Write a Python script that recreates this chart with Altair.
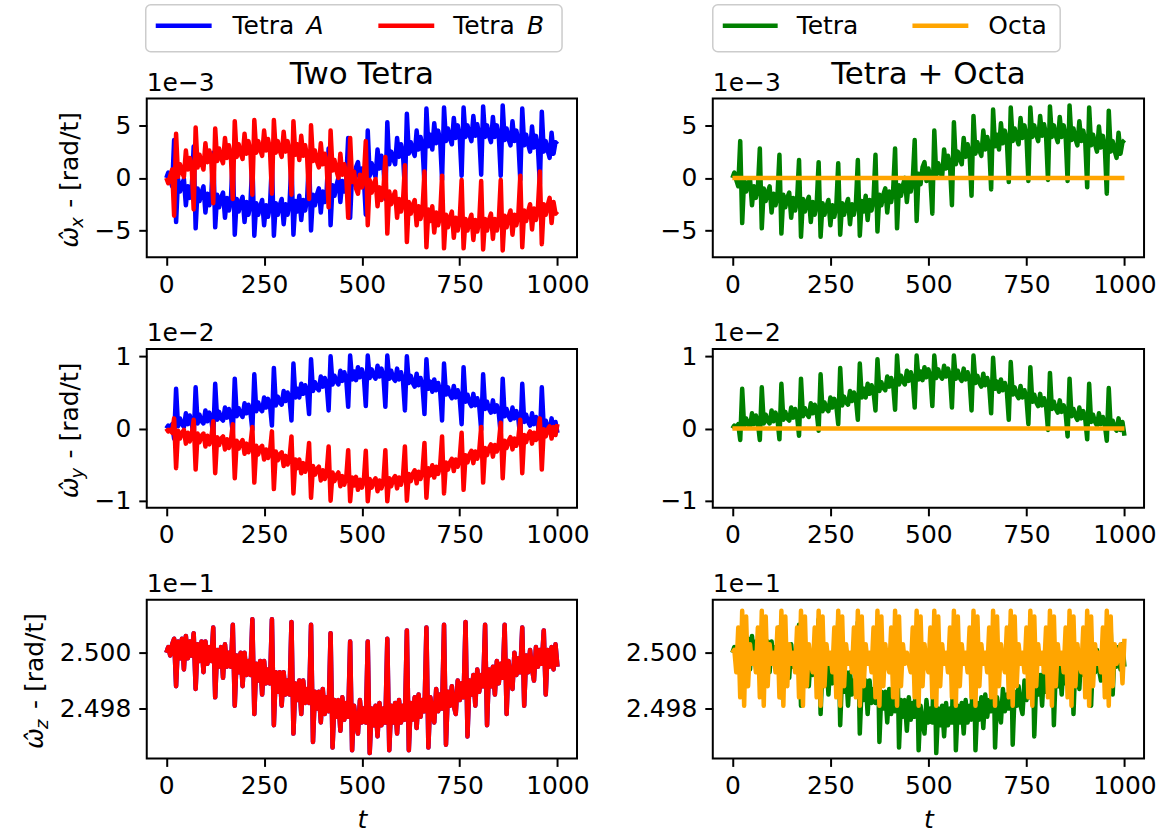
import altair as alt
import pandas as pd

FONT = "DejaVu Sans"

# sampling times (t = 0, 5, ..., 1000)
t_vals = list(range(0, 1001, 5))

# ---- omega_x, units of 1e-4 rad/t (axis shows x1e-3) ----
wx_tetraA = [0, 5, -2, -8, 36, -42,
 -1, -13, -6, -1, -26, -8, -19, -10, 30, -48,
 -10, -22, -14, -8, -33, -15, -26, -17, 24, -47,
 -16, -28, -19, -14, -38, -19, -31, -21, 20, -54,
 -20, -32, -23, -18, -42, -23, -35, -25, 16, -55,
 -24, -35, -27, -21, -45, -26, -37, -27, 15, -55,
 -24, -35, -26, -20, -44, -25, -35, -25, 16, -54,
 -22, -32, -17, -40, -21, -31, -20, 20, -50,
 -16, -26, -16, -10, -33, -13, -23, -12, 28, -45,
 -7, -17, -7, 0, -23, -3, -13, -2, 38, -38,
 4, -6, 10, 15, -3, 9, 0, -35, 45,
 2, 14, 6, 1, 27, 9, 21, 12, -20, 53,
 13, 25, 18, 13, 38, 20, 32, 23, -12, 61,
 23, 34, 26, 21, 45, 27, 39, 30, -6, 66,
 30, 41, 27, 52, 33, 45, 36, -2, 67,
 35, 47, 38, 32, 57, 38, 50, 40, 2, 67,
 39, 50, 41, 35, 59, 40, 51, 41, 3, 68,
 39, 50, 40, 34, 58, 39, 50, 40, 2, 69,
 36, 47, 37, 31, 54, 35, 45, 35, -2, 66,
 31, 41, 32, 25, 49, 29, 40, 29, -6, 63,
 25, 35, 26, 19, 43, 23, 34, 32]

wx_tetraB = [0, -5, 2, 8, -36, 42,
 1, 13, 6, 1, 26, 8, 19, 10, -30, 48,
 10, 22, 14, 8, 33, 15, 26, 17, -24, 47,
 16, 28, 19, 14, 38, 19, 31, 21, -20, 54,
 20, 32, 23, 18, 42, 23, 35, 25, -16, 55,
 24, 35, 27, 21, 45, 26, 37, 27, -15, 55,
 24, 35, 26, 20, 44, 25, 35, 25, -16, 54,
 22, 32, 17, 40, 21, 31, 20, -20, 50,
 16, 26, 16, 10, 33, 13, 23, 12, -28, 45,
 7, 17, 7, 0, 23, 3, 13, 2, -38, 38,
 -4, 6, -10, -15, 3, -9, 0, 35, -45,
 -2, -14, -6, -1, -27, -9, -21, -12, 20, -53,
 -13, -25, -18, -13, -38, -20, -32, -23, 12, -61,
 -23, -34, -26, -21, -45, -27, -39, -30, 6, -66,
 -30, -41, -27, -52, -33, -45, -36, 2, -67,
 -35, -47, -38, -32, -57, -38, -50, -40, -2, -67,
 -39, -50, -41, -35, -59, -40, -51, -41, -3, -68,
 -39, -50, -40, -34, -58, -39, -50, -40, -2, -69,
 -36, -47, -37, -31, -54, -35, -45, -35, 2, -66,
 -31, -41, -32, -25, -49, -29, -40, -29, 6, -63,
 -25, -35, -26, -19, -43, -23, -34, -32]

wx_tetra = [0, 5, -2, -8, 35, -43,
 -1, -13, -6, -1, -26, -8, -19, -10, 28, -48,
 -10, -22, -14, -8, -33, -15, -26, -17, 22, -53,
 -16, -28, -19, -14, -38, -19, -31, -21, 17, -56,
 -20, -32, -23, -18, -42, -23, -35, -25, 15, -56,
 -24, -35, -27, -21, -45, -26, -37, -27, 14, -54,
 -24, -35, -26, -20, -44, -25, -35, -25, 17, -55,
 -22, -32, -17, -40, -21, -31, -20, 22, -51,
 -16, -26, -16, -10, -33, -13, -23, -12, 28, -48,
 -7, -17, -7, 0, -23, -3, -13, -2, 36, -41,
 4, -6, 10, 15, -3, 9, 0, -34, 45,
 2, 14, 6, 1, 27, 9, 21, 12, -26, 53,
 13, 25, 18, 13, 38, 20, 32, 23, -17, 59,
 23, 34, 26, 21, 45, 27, 39, 30, -11, 65,
 30, 41, 27, 52, 33, 45, 36, -4, 67,
 35, 47, 38, 32, 57, 38, 50, 40, -3, 67,
 39, 50, 41, 35, 59, 40, 51, 41, -2, 68,
 39, 50, 40, 34, 58, 39, 50, 40, -3, 69,
 36, 47, 37, 31, 54, 35, 45, 35, -9, 67,
 31, 41, 32, 25, 49, 29, 40, 29, -15, 64,
 25, 35, 26, 19, 43, 23, 34, 36]

# ---- omega_y, units of 1e-4 rad/t (axis shows x1e-2) ----
wy_tetraA = [0, 4, 2, 6, -14, 55,
 3, 14, 6, 2, 21, 6, 18, 8, -12, 57,
 7, 19, 10, 7, 25, 10, 22, 13, -10, 62,
 12, 23, 14, 11, 29, 15, 27, 17, -6, 69,
 17, 28, 20, 16, 35, 21, 33, 23, -2, 75,
 24, 36, 27, 24, 43, 29, 41, 32, 4, 84,
 32, 44, 36, 33, 52, 38, 50, 41, 11, 90,
 43, 55, 43, 62, 48, 60, 51, 20, 96,
 52, 64, 56, 53, 72, 58, 70, 61, 25, 100,
 61, 73, 65, 61, 80, 66, 78, 68, 30, 101,
 68, 79, 67, 85, 71, 82, 72, 31, 101,
 70, 82, 73, 69, 87, 72, 83, 73, 30, 101,
 69, 80, 70, 66, 83, 68, 78, 67, 25, 100,
 63, 73, 63, 58, 76, 60, 70, 59, 20, 96,
 55, 65, 51, 68, 53, 63, 52, 11, 90,
 47, 57, 47, 42, 59, 43, 53, 42, 6, 85,
 37, 47, 36, 31, 48, 32, 42, 31, -2, 75,
 27, 37, 27, 22, 39, 23, 32, 21, -8, 69,
 17, 27, 17, 12, 29, 14, 24, 13, -12, 62,
 9, 19, 9, 4, 21, 6, 16, 5, -14, 57,
 1, 11, 1, -3, 14, -2, 9, -6]

wy_tetraB = [0, -4, -2, -6, 14, -55,
 -3, -14, -6, -2, -21, -6, -18, -8, 12, -57,
 -7, -19, -10, -7, -25, -10, -22, -13, 10, -62,
 -12, -23, -14, -11, -29, -15, -27, -17, 6, -69,
 -17, -28, -20, -16, -35, -21, -33, -23, 2, -75,
 -24, -36, -27, -24, -43, -29, -41, -32, -4, -84,
 -32, -44, -36, -33, -52, -38, -50, -41, -11, -90,
 -43, -55, -43, -62, -48, -60, -51, -20, -96,
 -52, -64, -56, -53, -72, -58, -70, -61, -25, -100,
 -61, -73, -65, -61, -80, -66, -78, -68, -30, -101,
 -68, -79, -67, -85, -71, -82, -72, -31, -101,
 -70, -82, -73, -69, -87, -72, -83, -73, -30, -101,
 -69, -80, -70, -66, -83, -68, -78, -67, -25, -100,
 -63, -73, -63, -58, -76, -60, -70, -59, -20, -96,
 -55, -65, -51, -68, -53, -63, -52, -11, -90,
 -47, -57, -47, -42, -59, -43, -53, -42, -6, -85,
 -37, -47, -36, -31, -48, -32, -42, -31, 2, -75,
 -27, -37, -27, -22, -39, -23, -32, -21, 8, -69,
 -17, -27, -17, -12, -29, -14, -24, -13, 12, -62,
 -9, -19, -9, -4, -21, -6, -16, -5, 14, -57,
 -1, -11, -1, 3, -14, 2, -9, 6]

wy_tetra = [0, 4, 2, 6, -16, 55,
 3, 14, 6, 2, 21, 6, 18, 8, -16, 57,
 7, 19, 10, 7, 25, 10, 22, 13, -15, 62,
 12, 23, 14, 11, 29, 15, 27, 17, -10, 69,
 17, 28, 20, 16, 35, 21, 33, 23, -3, 75,
 24, 36, 27, 24, 43, 29, 41, 32, 6, 84,
 32, 44, 36, 33, 52, 38, 50, 41, 12, 90,
 43, 55, 43, 62, 48, 60, 51, 25, 96,
 52, 64, 56, 53, 72, 58, 70, 61, 26, 101,
 61, 73, 65, 61, 80, 66, 78, 68, 29, 101,
 68, 79, 67, 85, 71, 82, 72, 31, 101,
 70, 82, 73, 69, 87, 72, 83, 73, 29, 101,
 69, 80, 70, 66, 83, 68, 78, 67, 25, 101,
 63, 73, 63, 58, 76, 60, 70, 59, 21, 98,
 55, 65, 51, 68, 53, 63, 52, 12, 92,
 47, 57, 47, 42, 59, 43, 53, 42, 6, 85,
 37, 47, 36, 31, 48, 32, 42, 31, -2, 77,
 27, 37, 27, 22, 39, 23, 32, 21, -11, 69,
 17, 27, 17, 12, 29, 14, 24, 13, -15, 62,
 9, 19, 9, 4, 21, 6, 16, 5, -17, 56,
 1, 11, 1, -3, 14, -2, 9, -10]

# ---- omega_z, offset from 2.500 in units of 1e-4 (axis shows x1e-1) ----
wz_tetra = [0, 2, -1, 3, 5, -12,
 4, -2, 5, -6, 6, -2, 4, -1, 7, -13,
 3, -3, 4, -7, 4, -4, 2, -3, 9, -16,
 1, -5, 2, -9, 3, -5, 0, -5, 10, -19,
 -1, -7, 0, -12, 0, -8, -3, -8, 12, -22,
 -4, -10, -3, -15, -3, -11, -6, -11, 12, -26,
 -7, -14, -7, -19, -7, -15, -10, -15, 11, -29,
 -11, -17, -10, -22, -10, -18, -13, -18, 10, -32,
 -14, -20, -14, -25, -13, -22, -16, -21, 7, -34,
 -17, -23, -17, -28, -16, -24, -18, -23, 4, -35,
 -19, -25, -29, -17, -25, -20, -25, 4, -36,
 -20, -26, -19, -30, -18, -26, -20, -25, 5, -35,
 -19, -25, -18, -29, -17, -25, -19, -24, 8, -35,
 -18, -24, -16, -27, -15, -23, -17, -21, 9, -34,
 -16, -21, -25, -13, -21, -15, -20, 10, -33,
 -14, -19, -12, -19, -22, -10, -17, -11, -16, 11, -30,
 -10, -15, -8, -19, -6, -14, -8, -12, 10, -26,
 -6, -12, -5, -15, -3, -11, -4, -9, 10, -22,
 -3, -9, -13, 0, -8, -2, -7, 9, -19,
 -1, -7, 1, -6, -10, 2, -5, 1, -4, 8, -15,
 1, -5, 2, -6, 3, -5]

wz_octa = [0, 1, -7, 9, -16, 15, -19, 13, -12, 3,
 -4, 0, -7, 9, -16, 15, -19, 13, -12, 3,
 -4, 0, -7, 9, -16, 15, -19, 13, -12, 3,
 -4, 0, -7, 9, -16, 15, -19, 13, -12, 3,
 -4, -7, 9, -16, 15, -19, 13, -12, 3, -4,
 0, -7, 9, -16, 15, -19, 13, -12, 3, -4,
 0, -7, 9, -16, 15, -19, 13, -12, 3, -4,
 0, -7, 9, -16, 15, -19, 13, -12, 3, -4,
 -7, 9, -16, 15, -19, 13, -12, 3, -4, 0,
 -4, -7, 9, -16, 15, -19, 13, -12, 3, -4,
 -7, 9, -16, 15, -19, 13, -12, 3, -4, 0,
 -7, 9, -16, 15, -19, 13, -12, 3, -4, 0,
 -7, 9, -16, 15, -19, 13, -12, 3, -4, 0,
 -7, 9, -16, 15, -19, 13, -12, 3, -4, -7,
 9, -16, 15, -19, 13, -12, 3, -4, 0, -7,
 9, -16, 15, -19, 13, -12, 3, -4, 0, -7,
 9, -16, 15, -19, 13, -12, 3, -4, 0, -7,
 9, -16, 15, -19, 13, -12, 3, -4, -7, 9,
 -16, 15, -19, 13, -12, 3, -4, 0, -7, 9,
 -16, 15, -19, 13, -12, 3, -4, 0, 3, -11,
 5]

# Octa stays at zero for x and y components
octa_flat_t = [0, 1000]
octa_flat = [0, 0]

for arr in (wx_tetraA, wx_tetraB, wx_tetra, wy_tetraA, wy_tetraB, wy_tetra, wz_tetra, wz_octa):
    assert len(arr) == len(t_vals), len(arr)

BLUE, RED, GREEN, ORANGE = "#0000ff", "#ff0000", "#008000", "#ffa500"
WL, WR, H = 431, 432, 159
FS = 25
LW = 4.5
ONE = pd.DataFrame({"k": [0]})

XDOM = [-50, 1050]


def xaxis(title=False):
    kw = dict(values=[0, 250, 500, 750, 1000], format="d", labelPadding=7)
    if title:
        return alt.Axis(title="t", titleFontStyle="italic", titlePadding=9, **kw)
    return alt.Axis(title=None, **kw)


def line(ts, vs, color, ydom, yvals, yfmt, xtitle=False):
    df = pd.DataFrame({"t": ts, "v": vs})
    return alt.Chart(df).mark_line(color=color, strokeWidth=LW, strokeJoin="round").encode(
        x=alt.X("t:Q", scale=alt.Scale(domain=XDOM, nice=False, zero=False), axis=xaxis(xtitle)),
        y=alt.Y("v:Q", scale=alt.Scale(domain=ydom, nice=False, zero=False),
                axis=alt.Axis(values=yvals, format=yfmt, title=None, labelPadding=8)),
    )


def txt(text, x, y, size=FS, align="left", style="normal", angle=0, baseline="alphabetic"):
    return alt.Chart(ONE).mark_text(text=text, font=FONT, fontSize=size, align=align,
                                    baseline=baseline, fontStyle=style, angle=angle,
                                    color="black").encode(x=alt.value(x), y=alt.value(y))


def rect(x, x2, y, y2, **kw):
    return alt.Chart(ONE).mark_rect(**kw).encode(
        x=alt.value(x), x2=alt.value(x2), y=alt.value(y), y2=alt.value(y2))


def seg(x, x2, y, color):
    return alt.Chart(ONE).mark_rule(color=color, strokeWidth=LW).encode(
        x=alt.value(x), x2=alt.value(x2), y=alt.value(y))


def ytitle(sub, xb):
    y0 = H / 2 + 70
    return [
        txt("\u03c9\u0302", xb, y0, style="italic", angle=270),
        txt(sub, xb + 5, y0 - 20, size=18, style="italic", angle=270),
        txt("- [rad/t]", xb, y0 - 40, angle=270),
    ]


def s(vals, k):
    return [v / k for v in vals]


def sz(vals):
    return [2.5 + v / 10000 for v in vals]


DX, DY, DZ = [-7.55, 7.55], [-1.1, 1.1], [2.49621, 2.5019]
VX, VY, VZ = [-5, 0, 5], [-1, 0, 1], [2.498, 2.5]

# Row 1
p11 = alt.layer(
    rect(-146, 0, -97, 0, opacity=0),
    line(t_vals, s(wx_tetraA, 10), BLUE, DX, VX, "d"),
    line(t_vals, s(wx_tetraB, 10), RED, DX, VX, "d"),
    txt("1e\u22123", 0, -8),
    txt("Two Tetra", WL / 2, -15, size=31, align="center"),
    rect(-1, 416, -94, -47, fill="white", stroke="#cccccc", strokeWidth=1.5, cornerRadius=5),
    seg(9, 65, -73, BLUE), txt("Tetra", 86, -65), txt("A", 160, -65, style="italic"),
    seg(232, 288, -73, RED), txt("Tetra", 307, -65), txt("B", 381, -65, style="italic"),
    *ytitle("x", -69),
).properties(width=WL, height=H)

p12 = alt.layer(
    rect(WR, WR + 24, 0, 10, opacity=0),
    line(t_vals, s(wx_tetra, 10), GREEN, DX, VX, "d"),
    line(octa_flat_t, octa_flat, ORANGE, DX, VX, "d"),
    txt("1e\u22123", 0, -8),
    txt("Tetra + Octa", WR / 2, -15, size=31, align="center"),
    rect(0, 348, -94, -47, fill="white", stroke="#cccccc", strokeWidth=1.5, cornerRadius=5),
    seg(10, 65, -73, GREEN), txt("Tetra", 84, -65),
    seg(200, 256, -73, ORANGE), txt("Octa", 276, -65),
).properties(width=WR, height=H)

# Row 2
p21 = alt.layer(
    line(t_vals, s(wy_tetraA, 100), BLUE, DY, VY, "d"),
    line(t_vals, s(wy_tetraB, 100), RED, DY, VY, "d"),
    txt("1e\u22122", 0, -8),
    *ytitle("y", -69),
).properties(width=WL, height=H)

p22 = alt.layer(
    line(t_vals, s(wy_tetra, 100), GREEN, DY, VY, "d"),
    line(octa_flat_t, octa_flat, ORANGE, DY, VY, "d"),
    txt("1e\u22122", 0, -8),
).properties(width=WR, height=H)

# Row 3
p31 = alt.layer(
    rect(0, 10, H, H + 76, opacity=0),
    line(t_vals, sz(wz_tetra), BLUE, DZ, VZ, ".3f", xtitle=True),
    line(t_vals, sz(wz_tetra), RED, DZ, VZ, ".3f", xtitle=True),
    txt("1e\u22121", 0, -8),
    *ytitle("z", -104),
).properties(width=WL, height=H)

p32 = alt.layer(
    line(t_vals, sz(wz_tetra), GREEN, DZ, VZ, ".3f", xtitle=True),
    line(t_vals, sz(wz_octa), ORANGE, DZ, VZ, ".3f", xtitle=True),
    txt("1e\u22121", 0, -8),
).properties(width=WR, height=H)

chart = alt.concat(p11, p12, p21, p22, p31, p32, columns=2).properties(
    spacing={"row": 92, "column": 136}, bounds="flush", padding=0, background="white"
).configure_view(stroke="black", strokeWidth=2).configure_axis(
    labelFont=FONT, labelFontSize=FS, labelColor="black", titleFont=FONT, titleFontSize=FS,
    titleColor="black", titleFontWeight="normal", tickColor="black", tickWidth=2, tickSize=8,
    domain=False, grid=False, labelFlush=False,
)

chart.save("out.html", embed_options={"renderer": "svg", "actions": False})
